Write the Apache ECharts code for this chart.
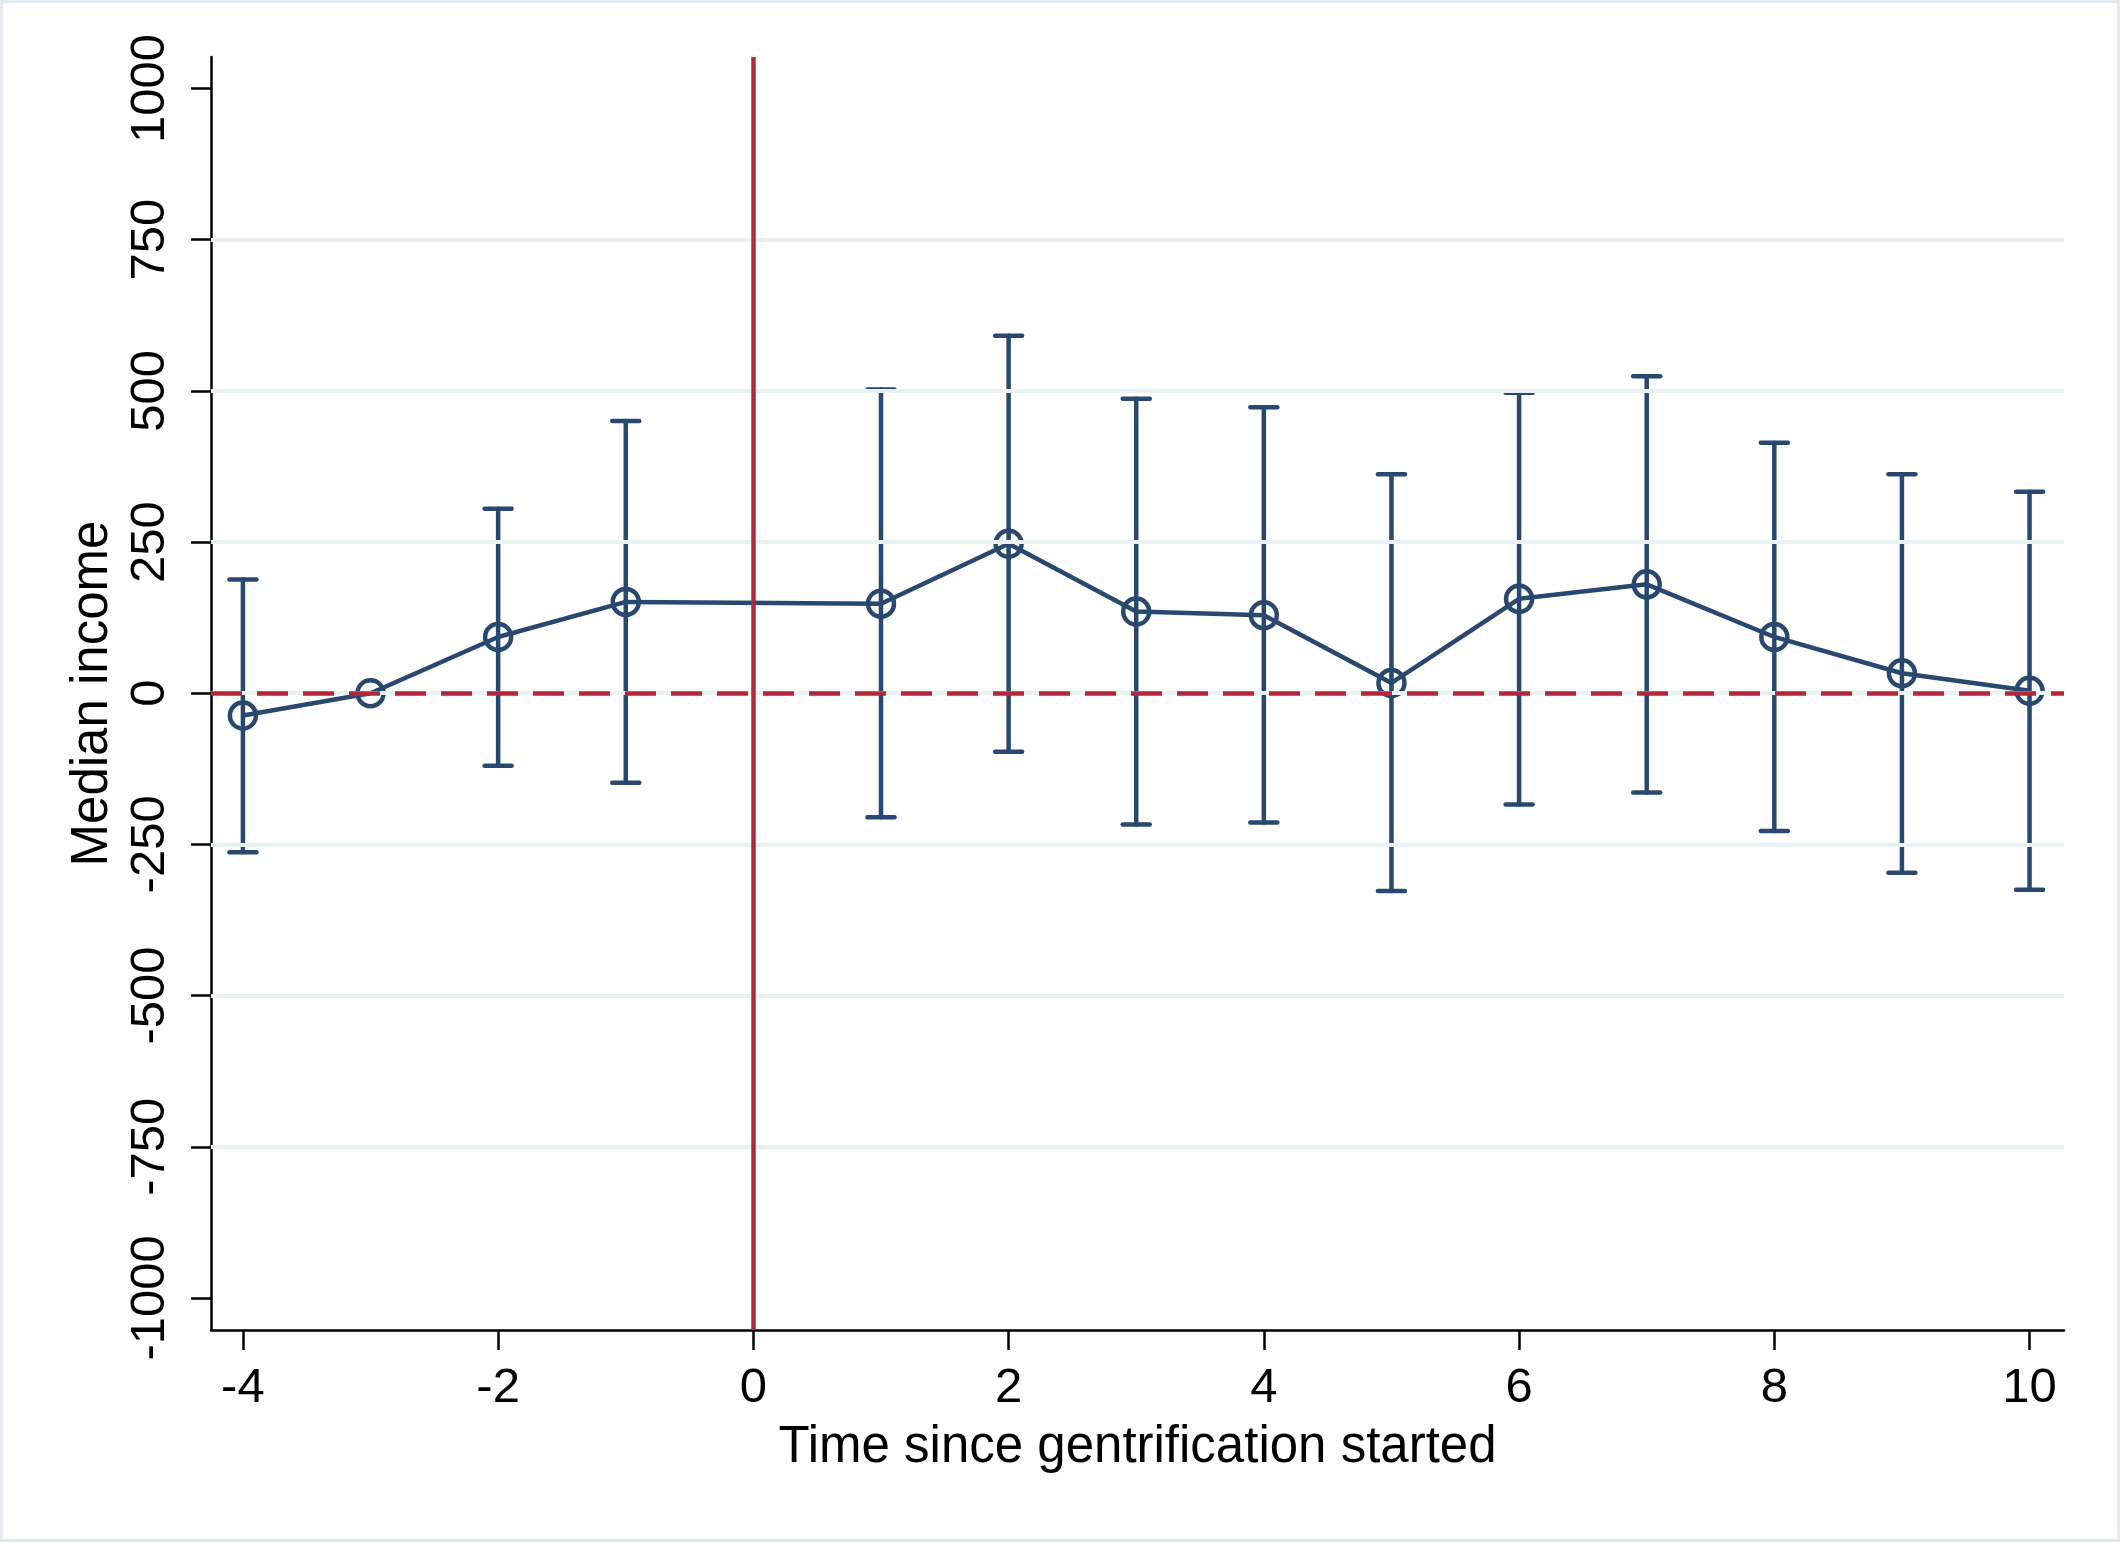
<!DOCTYPE html>
<html>
<head>
<meta charset="utf-8">
<script src="https://cdn.jsdelivr.net/npm/echarts@6/dist/echarts.min.js"></script>
<style>
html,body{margin:0;padding:0;background:#fff;}
#chart{width:2120px;height:1542px;}
</style>
</head>
<body>
<div id="chart"></div>
<script>
// ---- data ----
const periods   = [-4, -3, -2, -1, 1, 2, 3, 4, 5, 6, 7, 8, 9, 10];
const estimates = [-37, 0, 93, 151, 148, 247, 135, 129, 17, 156, 180, 93, 33, 4];
const ciUpper   = [188, null, 305, 450, 502, 591, 487, 473, 362, 497, 524, 414, 362, 333];
const ciLower   = [-263, null, -120, -148, -205, -97, -217, -214, -327, -184, -164, -228, -297, -325];
const xTicks    = [-4, -2, 0, 2, 4, 6, 8, 10];
const yTicks    = [-1000, -750, -500, -250, 0, 250, 500, 750, 1000];
const gridVals  = [-750, -500, -250, 0, 250, 500, 750];
const xRange    = [-4.25, 10.27];
const yRange    = [-1053, 1052];

const NAVY = '#284870';
const RED = '#B5263B';
const FONT = '"Liberation Sans", Arial, Helvetica, sans-serif';

const lineData = periods.map((p, i) => [p, estimates[i]]);
const ciData = [];
periods.forEach((p, i) => { if (ciUpper[i] !== null) ciData.push([p, ciLower[i], ciUpper[i]]); });

const chart = echarts.init(document.getElementById('chart'), null, {renderer: 'canvas'});
chart.setOption({
  animation: false,
  backgroundColor: '#ffffff',
  graphic: [{
    type: 'rect', silent: true, z: 0,
    shape: {x: 1.5, y: 1.5, width: 2117, height: 1539},
    style: {fill: 'none', stroke: '#E3EBEE', lineWidth: 3}
  }],
  grid: {left: 211, right: 56, top: 57, bottom: 212, containLabel: false},
  xAxis: {
    type: 'value', min: xRange[0], max: xRange[1],
    name: 'Time since gentrification started',
    nameLocation: 'middle', nameGap: 92,
    nameTextStyle: {fontFamily: FONT, fontSize: 51, color: '#000'},
    axisLine: {show: true, onZero: false, lineStyle: {color: '#000', width: 2.5}},
    axisTick: {show: true, length: 20, customValues: xTicks, lineStyle: {color: '#000', width: 2.5}},
    axisLabel: {customValues: xTicks, margin: 34, fontFamily: FONT, fontSize: 49, color: '#000',
                formatter: v => String(v)},
    splitLine: {show: false}
  },
  yAxis: {
    type: 'value', min: yRange[0], max: yRange[1],
    name: 'Median income',
    nameLocation: 'middle', nameGap: 91, nameRotate: 90,
    nameTextStyle: {fontFamily: FONT, fontSize: 51, color: '#000'},
    axisLine: {show: true, onZero: false, lineStyle: {color: '#000', width: 2.5}},
    axisTick: {show: true, length: 20, customValues: yTicks, lineStyle: {color: '#000', width: 2.5}},
    axisLabel: {customValues: yTicks, rotate: 90, margin: 36, fontFamily: FONT, fontSize: 49, color: '#000',
                formatter: v => String(v)},
    splitLine: {show: false}
  },
  series: [
    {
      name: 'grid', type: 'line', data: lineData, z: 1, silent: true,
      showSymbol: false, lineStyle: {width: 0, opacity: 0},
      markLine: {
        silent: true, symbol: ['none', 'none'], label: {show: false},
        lineStyle: {color: '#EAF1F3', width: 4, type: 'solid'},
        data: gridVals.map(v => ({yAxis: v}))
      }
    },
    {
      name: 'refs', type: 'line', data: lineData, z: 2, silent: true,
      showSymbol: false, lineStyle: {width: 0, opacity: 0},
      markLine: {
        silent: true, symbol: ['none', 'none'], label: {show: false},
        data: [
          {yAxis: 0, lineStyle: {color: RED, width: 4.5, type: [31, 15]}},
          {xAxis: 0, lineStyle: {color: '#B2283E', width: 4.5, type: 'solid'}}
        ]
      }
    },
    {
      name: 'ci', type: 'custom', z: 3, silent: true,
      data: ciData,
      encode: {x: 0, y: [1, 2]},
      renderItem: function (params, api) {
        const x = api.value(0);
        const lo = api.coord([x, api.value(1)]);
        const hi = api.coord([x, api.value(2)]);
        const hw = 13.5;
        const st = {stroke: NAVY, lineWidth: 4.5, lineCap: 'round'};
        return {
          type: 'group',
          children: [
            {type: 'line', shape: {x1: lo[0], y1: lo[1], x2: hi[0], y2: hi[1]}, style: st},
            {type: 'line', shape: {x1: lo[0] - hw, y1: lo[1], x2: lo[0] + hw, y2: lo[1]}, style: st},
            {type: 'line', shape: {x1: hi[0] - hw, y1: hi[1], x2: hi[0] + hw, y2: hi[1]}, style: st}
          ]
        };
      }
    },
    {
      name: 'estimate', type: 'line', z: 4, data: lineData,
      symbol: 'circle', symbolSize: 26, showAllSymbol: true,
      lineStyle: {color: NAVY, width: 4.5},
      itemStyle: {color: 'rgba(0,0,0,0)', borderColor: NAVY, borderWidth: 4.5},
      emphasis: {disabled: true}
    }
  ]
});
</script>
</body>
</html>
